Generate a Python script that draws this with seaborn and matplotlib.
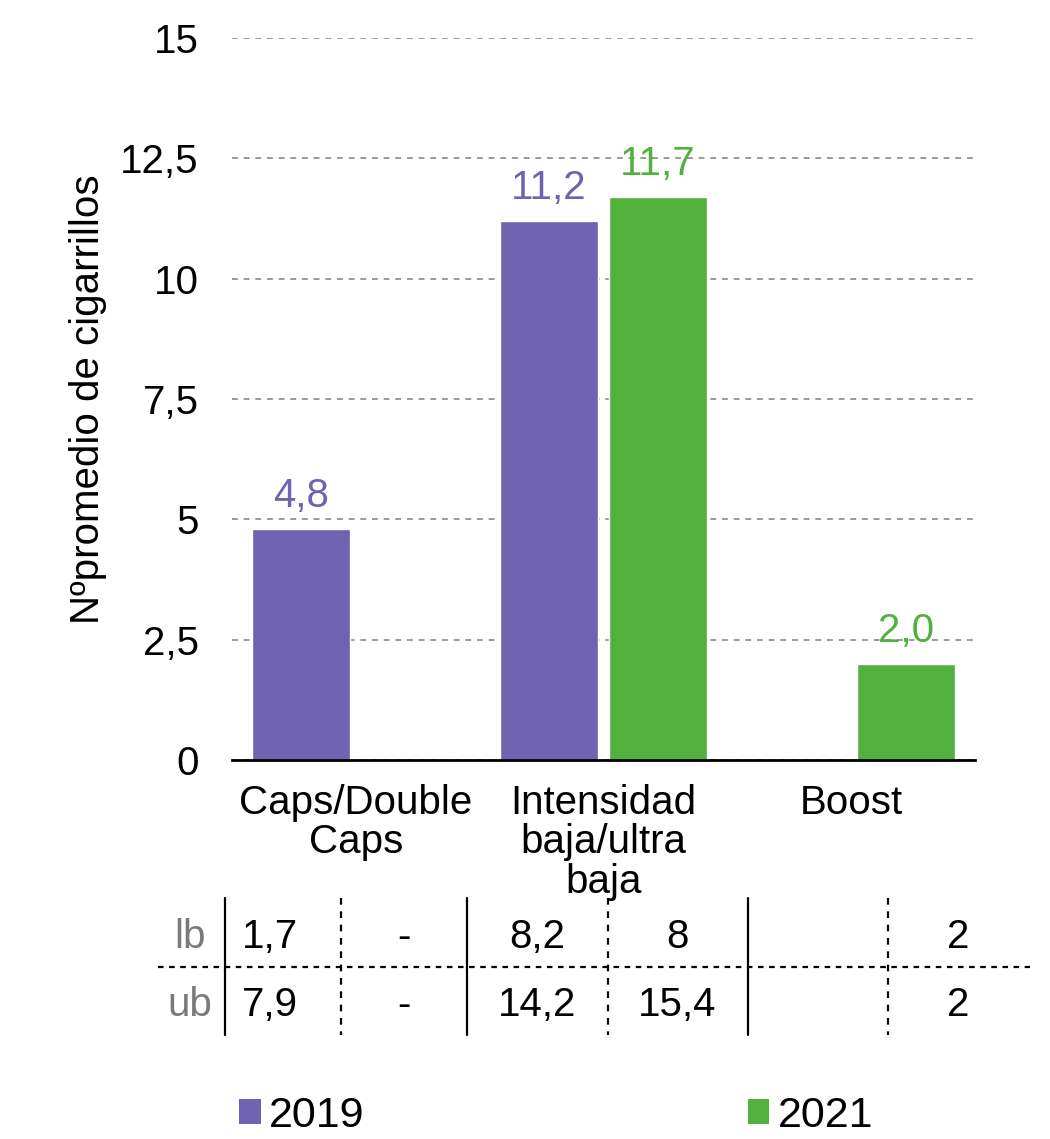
import pandas as pd
import matplotlib.pyplot as plt
from matplotlib.lines import Line2D
from matplotlib.patches import Patch
import seaborn as sns

# ── data ──────────────────────────────────────────────────────────────────────
categories = ["Caps/Double\nCaps", "Intensidad\nbaja/ultra\nbaja", "Boost"]
years = ["2019", "2021"]
values_2019 = [4.8, 11.2, None]
values_2021 = [None, 11.7, 2.0]

# confidence bounds table (as printed under the chart)
lb_row = ["1,7", "-", "8,2", "8", "", "2"]
ub_row = ["7,9", "-", "14,2", "15,4", "", "2"]

yticks = [0, 2.5, 5, 7.5, 10, 12.5, 15]

colors = {"2019": "#6F62B0", "2021": "#52B03D"}

rows = []
for cat, v19, v21 in zip(categories, values_2019, values_2021):
    rows.append((cat, "2019", v19))
    rows.append((cat, "2021", v21))
data = pd.DataFrame(rows, columns=["Categoria", "Año", "Valor"]).dropna()

# ── plot ──────────────────────────────────────────────────────────────────────
sns.set_theme(style="white")
plt.rcParams["font.family"] = ["Liberation Sans", "DejaVu Sans"]
plt.rcParams["text.color"] = "black"
plt.rcParams["axes.labelcolor"] = "black"
plt.rcParams["xtick.color"] = "black"
plt.rcParams["ytick.color"] = "black"
FS = 29

W, H = 1050, 1139
fig = plt.figure(figsize=(W / 100, H / 100), dpi=100)
ax = fig.add_axes([232 / W, 1 - 760 / H, (975 - 232) / W, (760 - 38) / H])

sns.barplot(
    data=data, x="Categoria", y="Valor", hue="Año",
    order=categories, hue_order=years, palette=colors, saturation=1,
    width=0.88, gap=0.1, edgecolor="white", linewidth=1,
    legend=False, ax=ax,
)

for cont, yr in zip(ax.containers, years):
    labels = [f"{b.get_height():.1f}".replace(".", ",") for b in cont]
    ax.bar_label(cont, labels=labels, padding=10, color=colors[yr], fontsize=FS)

ax.set_ylim(0, 15)
ax.set_xlim(-0.5, 2.5)
ax.set_yticks(yticks)
ax.set_yticklabels([f"{t:g}".replace(".", ",") for t in yticks])
ax.yaxis.grid(True, linestyle=(0, (3, 3)), color="#9a9a9a", linewidth=1.4)
ax.set_axisbelow(True)
for s in ["top", "right", "left"]:
    ax.spines[s].set_visible(False)
ax.spines["bottom"].set_color("black")
ax.spines["bottom"].set_linewidth(2)
ax.tick_params(axis="y", length=0, pad=24, labelsize=FS)
ax.tick_params(axis="x", length=0, pad=17, labelsize=FS)
for lab in ax.get_xticklabels():
    lab.set_linespacing(1.05)

ax.set_xlabel("")
ax.set_ylabel("Nºpromedio de cigarrillos", fontsize=FS)
ax.yaxis.set_label_coords(-0.168, 0.5)

# ── bounds table below the axis ───────────────────────────────────────────────
def fx(px):
    return px / W


def fy(py):
    return 1 - py / H


fig.add_artist(Line2D([fx(158), fx(1030)], [fy(967), fy(967)],
                      color="black", lw=1.6, ls=(0, (2.5, 2.5))))
for px in [225, 467, 748]:
    fig.add_artist(Line2D([fx(px), fx(px)], [fy(898), fy(1035)],
                          color="black", lw=1.6))
for px in [341, 608, 888]:
    fig.add_artist(Line2D([fx(px), fx(px)], [fy(898), fy(1035)],
                          color="black", lw=1.6, ls=(0, (3, 3))))

col_x = [270, 404, 537, 677, 818, 958]
for name, row, py in [("lb", lb_row, 937), ("ub", ub_row, 1005)]:
    fig.text(fx(190), fy(py), name, ha="center", va="center",
             fontsize=FS, color="#7a7a7a")
    for px, txt in zip(col_x, row):
        fig.text(fx(px), fy(py), txt, ha="center", va="center", fontsize=FS)

# ── legend ────────────────────────────────────────────────────────────────────
handles = [Patch(facecolor=colors[y], edgecolor="none") for y in years]
fig.legend(
    handles, years, loc="center left", bbox_to_anchor=(fx(239), fy(1116)),
    ncol=2, frameon=False, fontsize=FS + 2, handlelength=0.5,
    handleheight=0.5, handletextpad=0.2, columnspacing=8.9,
    borderpad=0, borderaxespad=0,
)

fig.savefig("out.png", dpi=100)
